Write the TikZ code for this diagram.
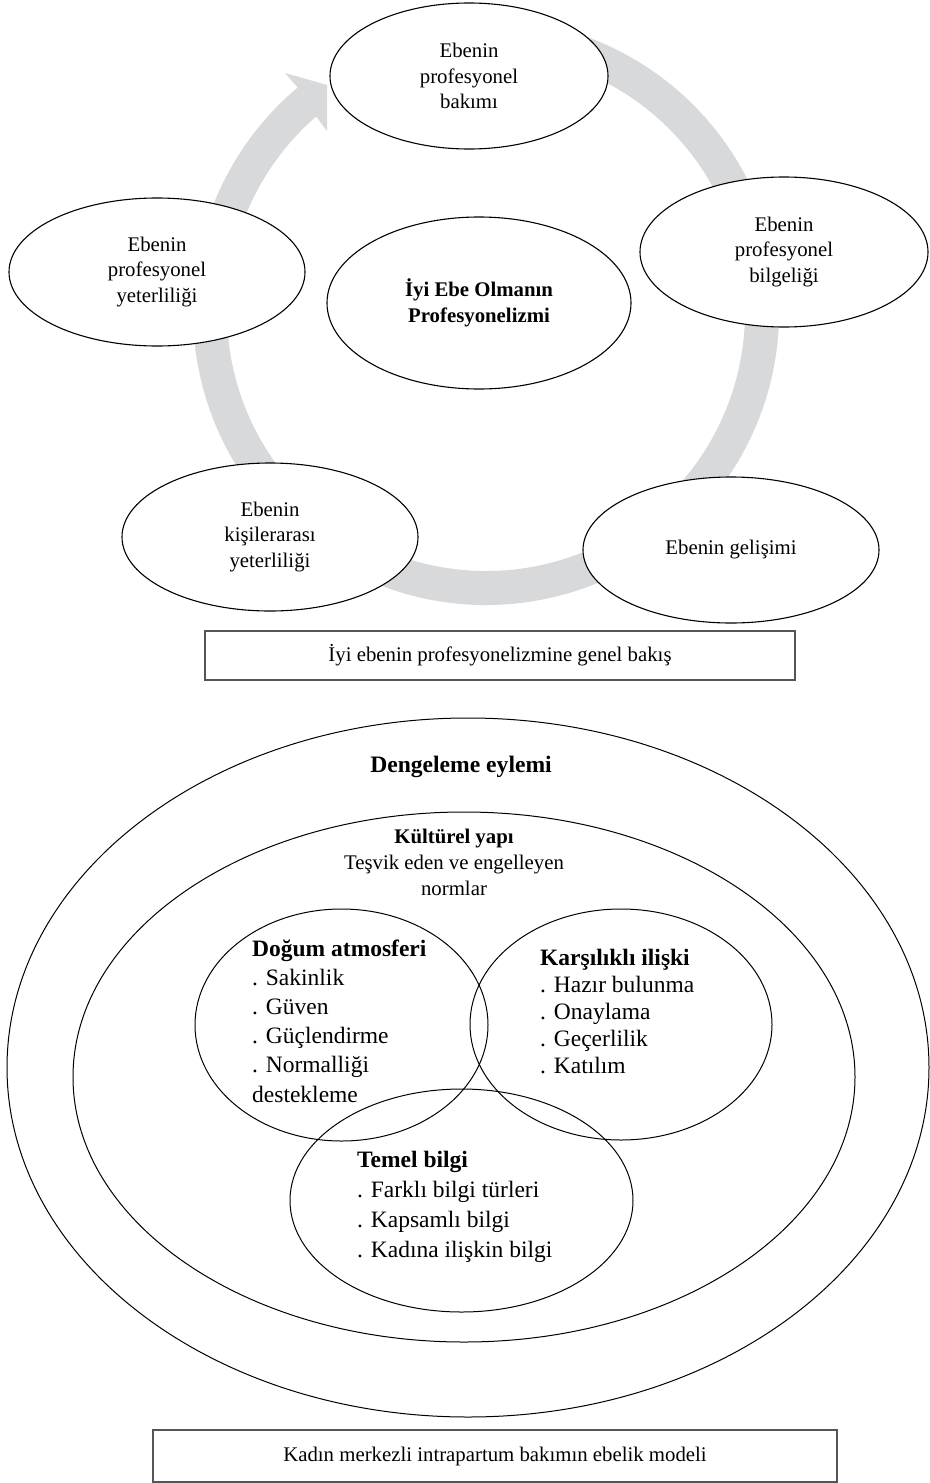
\documentclass[tikz,border=0pt]{standalone}
\usepackage{fontspec}
\setmainfont{Liberation Serif}
\usetikzlibrary{shapes.geometric,calc}
\definecolor{ringgray}{RGB}{216,217,219}
\definecolor{boxline}{RGB}{85,85,85}
\newcommand\toptxt{\fontsize{20.8}{25.5}\selectfont}
\newcommand\midtxt{\fontsize{20.8}{25.8}\selectfont}
\begin{document}
\begin{tikzpicture}[x=1pt,y=-1pt,
  oval/.style={ellipse, draw=black, line width=1.1pt, fill=white, inner sep=0pt, align=center, font=\toptxt},
  venn/.style={ellipse, draw=black, line width=1pt, inner sep=0pt},
  capbox/.style={rectangle, draw=boxline, line width=1.4pt, inner sep=0pt, font=\toptxt},
  list/.style={anchor=base west, align=left, inner sep=0pt}]
\useasboundingbox (0,0) rectangle (929,1483);
\fill[white] (0,0) rectangle (929,1483);

% ---- circular arrow ----
\coordinate (rc) at (486,312);
\fill[ringgray] (rc) ++(-100:293) arc[start angle=-100, end angle=230, radius=293]
  -- (285,73) -- (327,85) -- (327,131) -- ($(rc)+(229:259)$)
  arc[start angle=229, end angle=-100, radius=259] -- cycle;

% ---- top ellipses ----
\node[oval, minimum width=278pt, minimum height=146pt] (care) at (469,76) {Ebenin\\profesyonel\\bakımı};
\node[oval, minimum width=288pt, minimum height=150pt] (wisdom) at (784,252) {Ebenin\\profesyonel\\bilgeliği};
\node[oval, minimum width=296pt, minimum height=146pt] (dev) at (731,550) {Ebenin gelişimi};
\node[oval, minimum width=304pt, minimum height=172pt, font=\toptxt\bfseries] (core) at (479,303) {İyi Ebe Olmanın\\Profesyonelizmi};
\node[oval, minimum width=296pt, minimum height=148pt] (comp) at (157,272) {Ebenin\\profesyonel\\yeterliliği};
\node[oval, minimum width=296pt, minimum height=148pt] (inter) at (270,537) {Ebenin\\kişilerarası\\yeterliliği};

\node[capbox, minimum width=590pt, minimum height=49pt] (cap1) at (500,655.5) {İyi ebenin profesyonelizmine genel bakış};

% ---- lower diagram ----
\node[venn, minimum width=922pt, minimum height=699pt] (outer) at (468,1067.5) {};
\node[venn, minimum width=782pt, minimum height=530pt] (inner) at (464,1077) {};
\node[venn, minimum width=293pt, minimum height=232pt] (atmos) at (341.5,1025) {};
\node[venn, minimum width=302pt, minimum height=231pt] (rel) at (621,1024.5) {};
\node[venn, minimum width=343pt, minimum height=223pt] (know) at (461.5,1200.5) {};

\node[inner sep=0pt, font=\fontsize{23.6}{28}\selectfont\bfseries] (tdeng) at (461,767) {Dengeleme eylemi};
\node[inner sep=0pt, align=center, font=\midtxt] (tkult) at (454,862.5) {\textbf{Kültürel yapı}\\Teşvik eden ve engelleyen\\normlar};

\node[list, font=\fontsize{23.5}{29.2}\selectfont] (tatmos) at (252,1102)
  {\textbf{Doğum atmosferi}\\. Sakinlik\\. Güven\\. Güçlendirme\\. Normalliği\\destekleme};
\node[list, font=\fontsize{23.5}{27}\selectfont] (trel) at (540,1073)
  {\textbf{Karşılıklı ilişki}\\. Hazır bulunma\\. Onaylama\\. Geçerlilik\\. Katılım};
\node[list, font=\fontsize{23.5}{29.7}\selectfont] (tknow) at (357,1257)
  {\textbf{Temel bilgi}\\. Farklı bilgi türleri\\. Kapsamlı bilgi\\. Kadına ilişkin bilgi};

\node[capbox, minimum width=684pt, minimum height=52pt] (cap2) at (495,1456) {Kadın merkezli intrapartum bakımın ebelik modeli};
\end{tikzpicture}
\end{document}
